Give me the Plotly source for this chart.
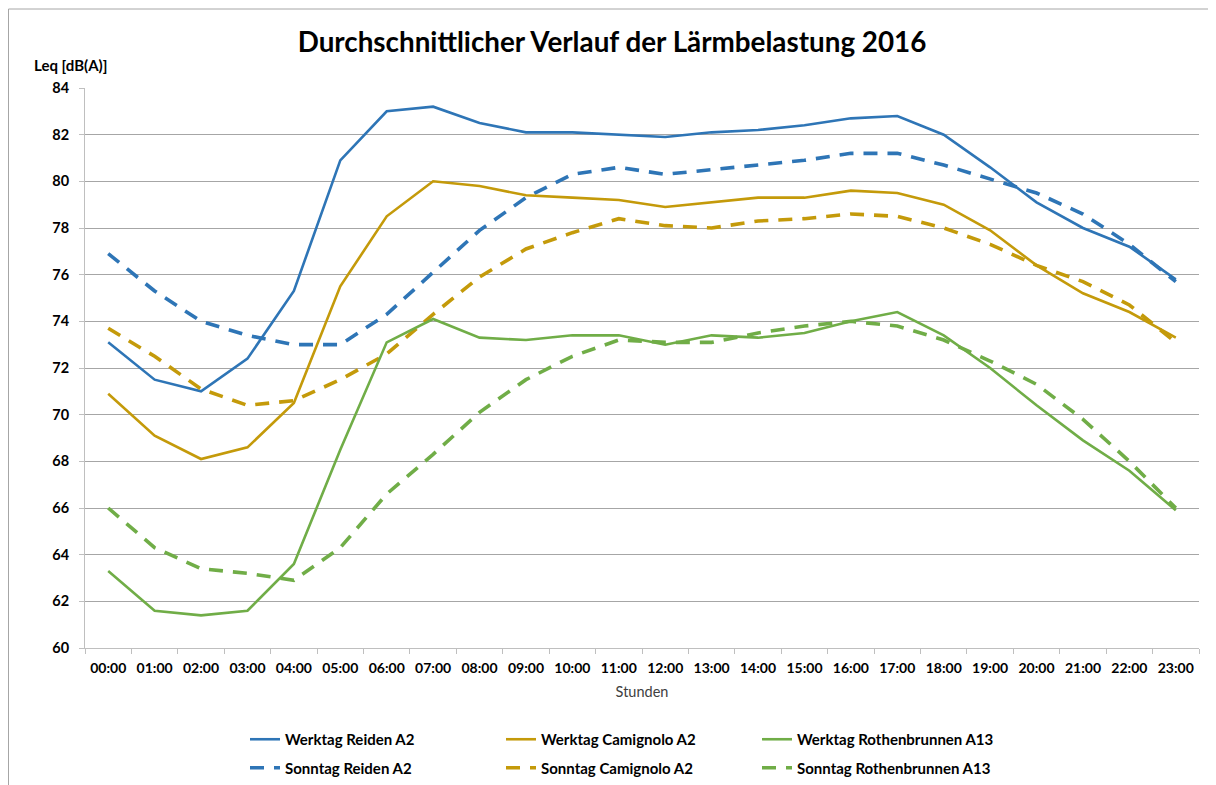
import plotly.graph_objects as go

hours = [f"{h:02d}:00" for h in range(24)]

werktag_reiden = [73.1, 71.5, 71.0, 72.4, 75.3, 80.9, 83.0, 83.2, 82.5, 82.1, 82.1, 82.0,
                  81.9, 82.1, 82.2, 82.4, 82.7, 82.8, 82.0, 80.6, 79.1, 78.0, 77.2, 75.8]
werktag_camignolo = [70.9, 69.1, 68.1, 68.6, 70.5, 75.5, 78.5, 80.0, 79.8, 79.4, 79.3, 79.2,
                     78.9, 79.1, 79.3, 79.3, 79.6, 79.5, 79.0, 77.9, 76.4, 75.2, 74.4, 73.3]
werktag_rothenbrunnen = [63.3, 61.6, 61.4, 61.6, 63.6, 68.5, 73.1, 74.1, 73.3, 73.2, 73.4, 73.4,
                         73.0, 73.4, 73.3, 73.5, 74.0, 74.4, 73.4, 72.0, 70.4, 68.9, 67.6, 65.9]
sonntag_reiden = [76.9, 75.3, 74.0, 73.4, 73.0, 73.0, 74.3, 76.1, 77.9, 79.3, 80.3, 80.6,
                  80.3, 80.5, 80.7, 80.9, 81.2, 81.2, 80.7, 80.1, 79.5, 78.6, 77.3, 75.7]
sonntag_camignolo = [73.7, 72.5, 71.1, 70.4, 70.6, 71.5, 72.6, 74.3, 75.9, 77.1, 77.8, 78.4,
                     78.1, 78.0, 78.3, 78.4, 78.6, 78.5, 78.0, 77.3, 76.4, 75.7, 74.7, 73.1]
sonntag_rothenbrunnen = [66.0, 64.3, 63.4, 63.2, 62.9, 64.3, 66.6, 68.3, 70.1, 71.5, 72.5, 73.2,
                         73.1, 73.1, 73.5, 73.8, 74.0, 73.8, 73.2, 72.3, 71.3, 69.8, 68.0, 66.0]

BLUE = "#2E75B6"
GOLD = "#C49A0A"
GREEN = "#70AD47"
FONT = "Lato"
DASH = "14px,10px"

series = [
    ("Werktag Reiden A2", werktag_reiden, BLUE, "solid", "legend"),
    ("Sonntag Reiden A2", sonntag_reiden, BLUE, DASH, "legend"),
    ("Werktag Camignolo A2", werktag_camignolo, GOLD, "solid", "legend2"),
    ("Sonntag Camignolo A2", sonntag_camignolo, GOLD, DASH, "legend2"),
    ("Werktag Rothenbrunnen A13", werktag_rothenbrunnen, GREEN, "solid", "legend3"),
    ("Sonntag Rothenbrunnen A13", sonntag_rothenbrunnen, GREEN, DASH, "legend3"),
]

fig = go.Figure()
for name, vals, col, dash, lg in series:
    fig.add_trace(go.Scatter(
        x=hours, y=vals, name=name, mode="lines",
        line=dict(color=col, width=2.6 if dash == "solid" else 3.6, dash=dash),
        legend=lg, legendgroup=name,
    ))

# figure is drawn 8px inside the page (body margin); sizes are in figure pixels
W, H = 1208, 777
L, R, T, B = 77, 17, 80, 137
pw, ph = W - L - R, H - T - B


def px(x):
    return (x - L) / pw


def py(y):
    return (H - B - y) / ph


legend_common = dict(
    orientation="v", font=dict(family=FONT, size=15, color="#000000", weight="bold"),
    bgcolor="rgba(0,0,0,0)", tracegroupgap=6, itemwidth=30,
    xanchor="left", yanchor="top",
)

fig.update_layout(
    width=W, height=H, autosize=False,
    margin=dict(l=L, r=R, t=T, b=B, pad=0, autoexpand=False),
    plot_bgcolor="white", paper_bgcolor="white",
    font=dict(family=FONT, color="#000000"),
    title=dict(text="<b>Durchschnittlicher Verlauf der Lärmbelastung 2016</b>",
               font=dict(family=FONT, size=27.8, color="#000000"),
               xref="container", yref="container",
               x=604 / W, xanchor="center", y=1 - 34 / H, yanchor="middle"),
    showlegend=True,
    legend=dict(x=px(237), y=py(715), **legend_common),
    legend2=dict(x=px(493), y=py(715), **legend_common),
    legend3=dict(x=px(749), y=py(715), **legend_common),
    xaxis=dict(
        type="category", range=[-0.5, 23.5], automargin=False,
        showgrid=False, showline=True, linecolor="#BFBFBF", linewidth=1,
        ticks="outside", tickson="boundaries", ticklen=5, tickcolor="#BFBFBF",
        ticklabelstandoff=7,
        tickfont=dict(family=FONT, size=14, color="#000000", weight="bold"),
        title=dict(text="Stunden", font=dict(family=FONT, size=14.5, color="#404040"), standoff=12),
    ),
    yaxis=dict(
        range=[60, 84], dtick=2, tick0=60, automargin=False,
        showgrid=True, gridcolor="#A6A6A6", gridwidth=1,
        showline=True, linecolor="#BFBFBF", linewidth=1,
        ticks="outside", ticklen=5, tickcolor="#BFBFBF",
        ticklabelstandoff=7,
        tickfont=dict(family=FONT, size=14.5, color="#000000", weight="bold"),
        zeroline=False,
    ),
    annotations=[dict(
        text="<b>Leq [dB(A)]</b>", xref="paper", yref="paper",
        x=px(24), y=py(57), xanchor="left", yanchor="middle", showarrow=False,
        font=dict(family=FONT, size=15, color="#000000"),
    )],
    shapes=[dict(
        type="rect", xref="paper", yref="paper",
        x0=px(0.5), x1=px(1240), y0=py(800), y1=py(1),
        line=dict(color="#A6A6A6", width=1), fillcolor="rgba(0,0,0,0)", layer="below",
    )],
)

fig.write_html("out.html")
